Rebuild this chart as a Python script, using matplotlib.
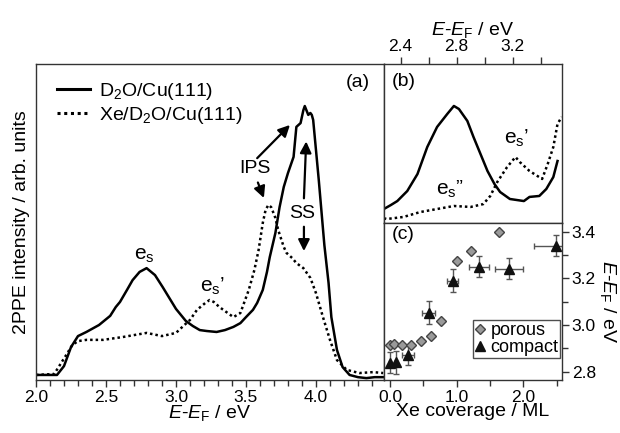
import numpy as np
import matplotlib
matplotlib.use('Agg')
import matplotlib.pyplot as plt
from matplotlib.ticker import MultipleLocator, FixedLocator, FuncFormatter

plt.rcParams['font.family'] = ['Liberation Sans', 'DejaVu Sans']
plt.rcParams['mathtext.fontset'] = 'custom'
plt.rcParams['mathtext.rm'] = 'Liberation Sans'
plt.rcParams['mathtext.it'] = 'Liberation Sans:italic'
plt.rcParams['font.size'] = 14
plt.rcParams['xtick.labelsize'] = 12.5
plt.rcParams['ytick.labelsize'] = 12.5

# (a) spectra, 2PPE intensity (arb. units)
e_a_solid = [2.00, 2.15, 2.20, 2.25, 2.30, 2.36, 2.45, 2.53, 2.57, 2.60, 2.65, 2.69, 2.74,
             2.79, 2.85, 2.905, 3.00, 3.07, 3.12, 3.17, 3.22, 3.29, 3.35, 3.41, 3.46, 3.50,
             3.55, 3.58, 3.62, 3.65, 3.67, 3.71, 3.74, 3.77, 3.80, 3.84, 3.86, 3.89, 3.91,
             3.92, 3.945, 3.96, 3.97, 3.98, 4.02, 4.06, 4.09, 4.11, 4.15, 4.19, 4.24, 4.30,
             4.36, 4.42, 4.49]
i_a_solid = [1.6, 1.6, 4.4, 10.4, 13.9, 15.2, 17.4, 20.3, 23.1, 24.7, 28.5, 31.6, 34.2,
             35.4, 33.2, 29.4, 22.5, 18.7, 17.1, 15.8, 15.5, 15.2, 15.8, 16.8, 18.0, 19.9,
             22.2, 24.4, 28.5, 34.2, 38.9, 46.5, 54.7, 61.1, 65.5, 70.6, 80.1, 81.3, 85.4,
             86.7, 83.9, 84.5, 83.9, 82.3, 63.3, 42.7, 30.7, 19.9, 9.5, 4.1, 1.6, 0.9,
             0.6, 0.9, 0.9]
e_a_dot = [2.00, 2.13, 2.18, 2.22, 2.26, 2.30, 2.36, 2.48, 2.62, 2.79, 2.90, 3.00, 3.06,
           3.10, 3.15, 3.21, 3.24, 3.27, 3.31, 3.36, 3.41, 3.46, 3.52, 3.56, 3.59, 3.62,
           3.64, 3.66, 3.68, 3.71, 3.73, 3.77, 3.79, 3.83, 3.86, 3.91, 3.96, 4.00, 4.05,
           4.10, 4.15, 4.22, 4.31, 4.41, 4.48]
i_a_dot = [1.6, 1.9, 5.4, 8.2, 11.1, 12.3, 12.7, 12.7, 13.6, 14.9, 13.9, 14.9, 17.4,
           19.0, 22.2, 24.4, 25.3, 24.7, 23.1, 21.5, 19.9, 21.2, 28.5, 34.8, 41.1, 49.7,
           53.8, 55.4, 54.7, 51.3, 47.5, 42.1, 40.2, 38.6, 37.0, 35.4, 32.3, 27.5, 19.9,
           12.7, 6.3, 3.2, 2.2, 2.5, 2.2]

# (b) zoomed spectra
e_b_solid = [2.28, 2.33, 2.376, 2.447, 2.52, 2.59, 2.66, 2.733, 2.78, 2.816, 2.876, 2.92,
             2.97, 3.02, 3.07, 3.11, 3.18, 3.28, 3.32, 3.39, 3.44, 3.49, 3.52]
i_b_solid = [8.8, 11.3, 13.8, 20.1, 30.8, 47.8, 60.4, 68.6, 73.6, 71.7, 64.2, 54.1,
             43.4, 32.7, 24.5, 19.5, 15.1, 13.8, 16.4, 17.0, 21.4, 28.9, 39.0]
e_b_dot = [2.28, 2.30, 2.42, 2.54, 2.66, 2.78, 2.90, 2.99, 3.04, 3.09, 3.16, 3.22, 3.25,
           3.32, 3.41, 3.45, 3.49, 3.52, 3.55]
i_b_dot = [3.0, 2.5, 3.8, 6.9, 8.8, 10.7, 10.1, 11.9, 17.0, 25.8, 35.2, 41.5, 38.4,
           32.7, 27.7, 37.1, 47.8, 62.3, 66.7]

# (c) peak position vs Xe coverage
cov_porous = [0.0, 0.065, 0.185, 0.31, 0.46, 0.62, 0.77, 1.0, 1.21, 1.64]
e_porous = [2.915, 2.92, 2.915, 2.915, 2.932, 2.953, 3.015, 3.276, 3.318, 3.397]
cov_compact = [0.0, 0.09, 0.27, 0.58, 0.94, 1.33, 1.78, 2.49]
e_compact = [2.839, 2.84, 2.872, 3.053, 3.19, 3.25, 3.24, 3.34]
yerr_compact = [0.047, 0.05, 0.043, 0.05, 0.05, 0.045, 0.045, 0.045]
xerr_compact = [0.02, 0.02, 0.09, 0.1, 0.08, 0.15, 0.21, 0.33]

spine_c = '#333333'
fig = plt.figure(figsize=(6.2, 4.33), dpi=100)
W, H = 620, 433
def rect(x0, y0, x1, y1):
    return [x0 / W, 1 - y1 / H, (x1 - x0) / W, (y1 - y0) / H]

axa = fig.add_axes(rect(36, 64, 384, 380))
axb = fig.add_axes(rect(384, 64, 562, 223))
axc = fig.add_axes(rect(384, 223, 562, 380))
for ax in (axa, axb, axc):
    for s in ax.spines.values():
        s.set_color(spine_c)
        s.set_linewidth(1.0)

# ---- (a)
axa.plot(e_a_solid, i_a_solid, color='k', lw=1.8, label='D$_2$O/Cu(111)')
axa.plot(e_a_dot, i_a_dot, color='k', lw=1.8, ls=(0, (1, 1.2)), label='Xe/D$_2$O/Cu(111)')
axa.set_xlim(2.0, 4.486)
axa.set_ylim(0, 100)
axa.set_yticks([])
axa.xaxis.set_major_locator(MultipleLocator(0.5))
axa.xaxis.set_minor_locator(MultipleLocator(0.1))
axa.xaxis.set_major_formatter(FuncFormatter(lambda v, p: f'{v:.1f}'))
axa.tick_params(axis='x', which='major', direction='out', length=5, width=1, color=spine_c, pad=2)
axa.tick_params(axis='x', which='minor', direction='out', length=4, width=1, color=spine_c)
axa.set_xlabel('$E$-$E_\\mathrm{F}$ / eV', labelpad=-1)
axa.set_ylabel('2PPE intensity / arb. units', labelpad=4)
leg_a = axa.legend(loc='upper left', frameon=False, handlelength=1.7, handletextpad=0.5,
                   borderaxespad=0.3, labelspacing=0.15, bbox_to_anchor=(0.02, 0.99))
for ln in leg_a.get_lines():
    ln.set_linewidth(2.2)
axa.text(0.925, 0.943, '(a)', transform=axa.transAxes, ha='center', va='center')
axa.text(2.774, 39.5, 'e$_\\mathrm{s}$', ha='center', va='center', fontsize=15)
axa.text(3.26, 29.5, 'e$_\\mathrm{s}$’', ha='center', va='center', fontsize=15)
axa.text(3.564, 67.0, 'IPS', ha='center', va='center')
axa.text(3.898, 52.7, 'SS', ha='center', va='center')
aprops = dict(arrowstyle='-|>', color='k', lw=1.6, mutation_scale=17, shrinkA=0, shrinkB=0)
axa.annotate('', xy=(3.814, 80.7), xytext=(3.58, 70.2), arrowprops=aprops)
axa.annotate('', xy=(3.628, 57.6), xytext=(3.585, 62.5), arrowprops=aprops)
axa.annotate('', xy=(3.93, 75.5), xytext=(3.914, 57.5), arrowprops=aprops)
axa.annotate('', xy=(3.914, 40.8), xytext=(3.914, 48.5), arrowprops=aprops)

# ---- (b)
axb.plot(e_b_solid, i_b_solid, color='k', lw=1.8)
axb.plot(e_b_dot, i_b_dot, color='k', lw=1.8, ls=(0, (1, 1.2)))
axb.set_xlim(2.281, 3.552)
axb.set_ylim(0, 100)
axb.set_yticks([])
axb.xaxis.tick_top()
axb.xaxis.set_label_position('top')
axb.xaxis.set_major_locator(FixedLocator([2.4, 2.6, 2.8, 3.0, 3.2, 3.4]))
axb.xaxis.set_major_formatter(FuncFormatter(
    lambda v, p: f'{v:.1f}' if round(v * 10) % 4 == 0 else ''))
axb.tick_params(axis='x', direction='out', length=5, width=1, color=spine_c, pad=2)
axb.set_xlabel('$E$-$E_\\mathrm{F}$ / eV', labelpad=3)
axb.text(0.11, 0.889, '(b)', transform=axb.transAxes, ha='center', va='center')
axb.text(3.225, 53.5, 'e$_\\mathrm{s}$’', ha='center', va='center', fontsize=15)
axb.text(2.75, 21.0, 'e$_\\mathrm{s}$”', ha='center', va='center', fontsize=15)

# ---- (c)
axc.errorbar(cov_compact, e_compact, yerr=yerr_compact, xerr=xerr_compact, fmt='none',
             ecolor='#555555', elinewidth=1.0, capsize=2, capthick=1.0, zorder=2)
axc.plot(cov_porous, e_porous, ls='none', marker='D', ms=5, mfc='#9a9a9a', mec='#444444',
         mew=1.0, label='porous', zorder=3)
axc.plot(cov_compact, e_compact, ls='none', marker='^', ms=7, mfc='#111111', mec='#111111',
         label='compact', zorder=3)
axc.set_xlim(-0.09, 2.58)
axc.set_ylim(2.764, 3.437)
axc.xaxis.set_major_locator(MultipleLocator(1.0))
axc.xaxis.set_minor_locator(MultipleLocator(0.5))
axc.xaxis.set_major_formatter(FuncFormatter(lambda v, p: f'{v:.1f}'))
axc.yaxis.tick_right()
axc.yaxis.set_label_position('right')
axc.yaxis.set_major_locator(MultipleLocator(0.2))
axc.yaxis.set_minor_locator(MultipleLocator(0.1))
axc.yaxis.set_major_formatter(FuncFormatter(lambda v, p: f'{v:.1f}'))
axc.tick_params(which='major', direction='out', length=5, width=1, color=spine_c, pad=2)
axc.tick_params(which='minor', direction='out', length=4, width=1, color=spine_c)
axc.set_xlabel('Xe coverage / ML', labelpad=-1)
axc.set_ylabel('$E$-$E_\\mathrm{F}$ / eV', rotation=270, labelpad=16)
axc.text(0.11, 0.924, '(c)', transform=axc.transAxes, ha='center', va='center')
leg = axc.legend(loc='lower right', bbox_to_anchor=(0.99, 0.14), frameon=True, fancybox=False,
                 handlelength=0.6, handletextpad=0.25, borderpad=0.1, labelspacing=0.0,
                 borderaxespad=0.0, fontsize=13)
leg.get_frame().set_edgecolor('#222222')
leg.get_frame().set_linewidth(1.0)

fig.savefig('out.png', dpi=100)
